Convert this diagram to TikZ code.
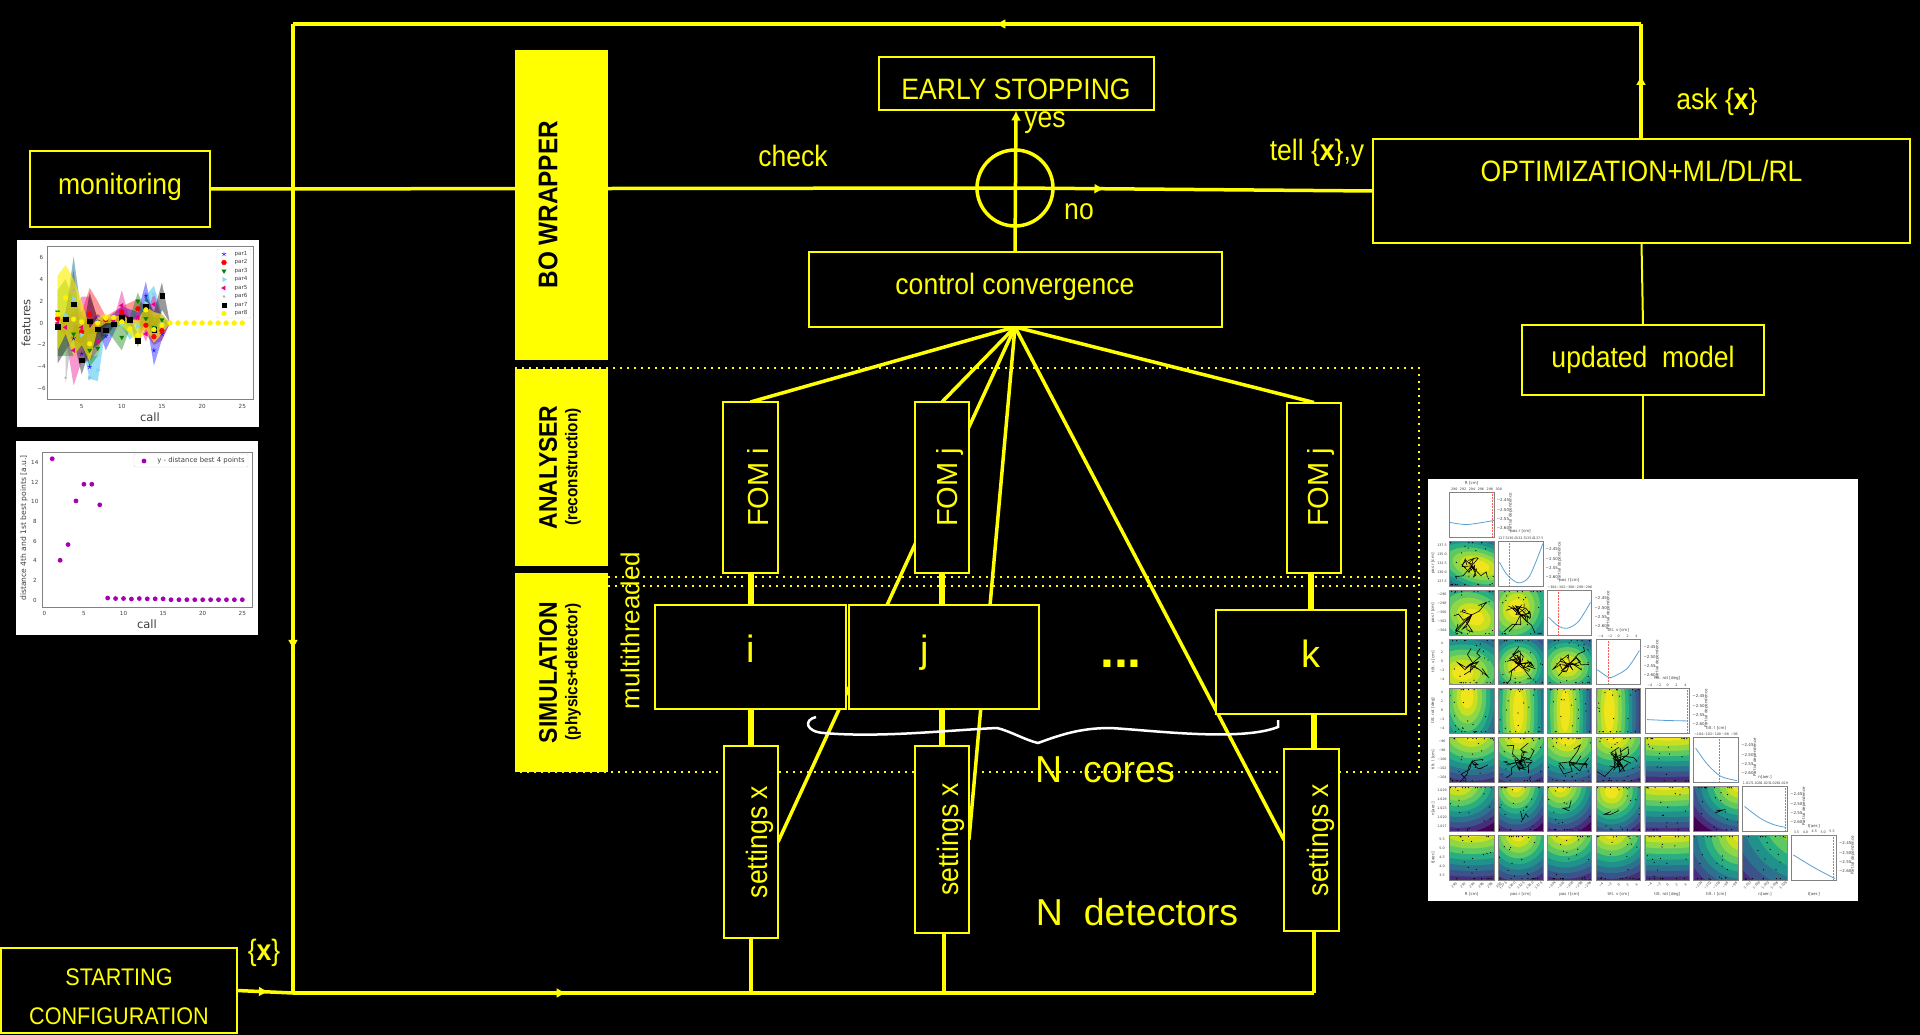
\documentclass[tikz,border=0pt]{standalone}
\usepackage{fontspec}
\usepackage{graphicx}
\setmainfont{Liberation Sans}
\newfontfamily\narrowfont[FakeStretch=0.9]{Liberation Sans}
\newfontfamily\plotfont{DejaVu Sans}
\definecolor{boYellow}{RGB}{255, 255, 0}
\definecolor{dotPurple}{RGB}{165, 0, 180}
\definecolor{axisGray}{RGB}{130, 130, 130}
\definecolor{curveBlue}{RGB}{90, 160, 210}
\definecolor{vA}{HTML}{440154}
\definecolor{vB}{HTML}{472D7B}
\definecolor{vC}{HTML}{3B528B}
\definecolor{vD}{HTML}{2C728E}
\definecolor{vE}{HTML}{21918C}
\definecolor{vF}{HTML}{28AE80}
\definecolor{vG}{HTML}{5EC962}
\definecolor{vH}{HTML}{8FD744}
\definecolor{vI}{HTML}{C8E020}
\definecolor{vJ}{HTML}{F0E51C}
\usetikzlibrary{shapes.geometric, arrows.meta, decorations.markings, plotmarks, backgrounds}

\newcommand{\fsz}[1]{\fontsize{#1}{#1}\selectfont}
\newcommand{\upby}[2]{\raisebox{#1}[0pt][0pt]{#2}}
\newcommand{\parband}[2]{\fill[#1, fill opacity=0.4] plot coordinates {#2} -- cycle;}
\newcommand{\parmark}[5]{\draw[#1] plot[only marks, mark=#2, mark size=#3,
    mark options={rotate=#4, fill=#1, draw=#1}] coordinates {#5};}
% one diagonal panel of the corner plot: column, red line, curve
\newcommand{\diagpanel}[3]{
  \begin{scope}[shift={({1449.3+48.9*#1},{492.3+49*#1})}, x=44.7pt, y=-44.7pt]
    \draw[axisGray, fill=white, line width=0.7pt] (0,0) rectangle (1,1);
    \draw[curveBlue, line width=0.8pt] plot[smooth] coordinates {#3};
    \draw[red!65, densely dotted, line width=0.5pt] (#2,0) -- (#2,1);
    \foreach \yv/\yt in {0.17/−2.45, 0.39/−2.50, 0.60/−2.55, 0.81/−2.60}
      \node[cornertxt] at (1.2,\yv) {\yt};
    \node[cornertxt, rotate=90] at (1.37,0.45) {Partial dependence};
  \end{scope}
}

\begin{document}
\begin{tikzpicture}[x=1pt, y=-1pt,
  box/.style={rectangle, draw=boYellow, fill=black, line width=2pt, inner sep=0pt,
              outer sep=0pt, text=boYellow, align=center, font=\narrowfont\fsz{29.5}},
  wh/.style 2 args={minimum width=#1pt, minimum height=#2pt},
  sidebar/.style={rectangle, fill=boYellow, inner sep=0pt, outer sep=0pt,
                  minimum width=93pt, text=black},
  lab/.style={text=boYellow, inner sep=0pt, font=\narrowfont\fsz{29.5}},
  sublab/.style={text=black, inner sep=0pt, rotate=90, font=\narrowfont\bfseries\fsz{17}},
  conn/.style={draw=boYellow, line width=3.5pt},
  thickconn/.style={draw=boYellow, line width=6pt},
  thinconn/.style={draw=boYellow, line width=2pt},
  dotline/.style={draw=boYellow, line width=2pt, dash pattern=on 2pt off 5pt},
  midarrow/.style={postaction={decorate, decoration={markings,
      mark=at position #1 with {\arrow{Latex[length=10pt, width=10pt]}}}}},
  plotbg/.style={rectangle, fill=white, inner sep=0pt, outer sep=0pt},
  plottxt/.style={inner sep=0pt, text=black!75, font=\plotfont\fsz{5.6}},
  cornertxt/.style={inner sep=0pt, text=black!75, font=\plotfont\fsz{4}},
]
  \useasboundingbox (0,0) rectangle (1920,1035);

  % boxes
  \node[box, wh={180}{76}] (monitor) at (120,189) {\upby{-6pt}{monitoring}};
  \node[box, wh={275}{53}] (early) at (1016,84) {\upby{-16pt}{EARLY STOPPING}};
  \node[box, wh={413}{75}] (control) at (1015,289.5) {\upby{-5.5pt}{control convergence}};
  \node[box, wh={537}{104}] (optim) at (1641.5,191) {\upby{9pt}{OPTIMIZATION+ML/DL/RL}};
  \node[box, wh={242}{70}] (updated) at (1643,360) {\upby{-7pt}{updated\ \ model}};
  \node[box, wh={236}{85}, font=\narrowfont\fsz{24}] (start) at (119,990.5)
    {\upby{-33.5pt}{\begin{tabular}[b]{@{}c@{}}STARTING\\[15pt]CONFIGURATION\end{tabular}}};

  \coordinate (loopTL) at (293,24);
  \coordinate (loopTR) at (1641,24);
  \coordinate (loopBL) at (293,993);
  \coordinate (loopBR) at (1314,993);
  \node[circle, draw=boYellow, line width=3.5pt, inner sep=0pt, minimum size=76pt] (check) at (1015,188) {};

  % detector columns
  \node[box, wh={55}{171}, font=\fsz{29}] (fomi) at (750.5,487.5) {\hspace*{15pt}\rotatebox{90}{FOM i}};
  \node[box, wh={54}{171}, font=\fsz{29}] (fomj) at (942,487.5) {\hspace*{16pt}\rotatebox{90}{FOM j}};
  \node[box, wh={54}{170}, font=\fsz{29}] (fomk) at (1314,487.5) {\hspace*{14pt}\rotatebox{90}{FOM j}};
  \node[box, wh={54}{192}] (setone) at (751,842) {\hspace*{18pt}\rotatebox{90}{settings x}};
  \node[box, wh={54.5}{187}] (settwo) at (941.75,839.5) {\hspace*{18pt}\rotatebox{90}{settings x}};
  \node[box, wh={55}{182}] (setthree) at (1311.5,840) {\hspace*{19pt}\rotatebox{90}{settings x}};
  \node[box, wh={191}{104}, font=\fsz{38}] (corei) at (750.5,657) {\upby{-5pt}{i}};
  \node[box, wh={190}{104}, font=\fsz{38}] (corej) at (944,657) {\upby{-5pt}{j}\hspace*{38pt}};
  \node[box, wh={190.5}{104}, font=\fsz{38}] (corek) at (1310.75,662) {\upby{-5pt}{k}};
  \node[lab, anchor=base, font=\fsz{50}\bfseries] (coredots) at (1121,667) {...};

  % side bars
  \node[sidebar, minimum height=309.5pt, font=\narrowfont\bfseries\fsz{27}] (bowrap) at (561.5,204.75)
    {\rotatebox{90}{BO WRAPPER}\hspace*{27pt}};
  \node[sidebar, minimum height=197pt, font=\narrowfont\bfseries\fsz{25.5}] (analyser) at (561.5,467.5)
    {\rotatebox{90}{ANALYSER}\hspace*{27pt}};
  \node[sidebar, minimum height=199pt, font=\narrowfont\bfseries\fsz{25.5}] (simul) at (561.5,672.5)
    {\rotatebox{90}{SIMULATION}\hspace*{27pt}};
  \node[sublab] (analysersub) at (573,467) {(reconstruction)};
  \node[sublab] (simulsub) at (573,672) {(physics+detector)};

  % connectors under the boxes
  \begin{scope}[on background layer]
    \fill[black] (0,0) rectangle (1920,1035);
    \coordinate (dotA) at (515,368);
    \coordinate (dotB) at (1419,368);
    \coordinate (dotC) at (1419,772);
    \coordinate (dotD) at (515,772);
    \coordinate (dotE) at (608,577);
    \coordinate (dotF) at (1419,577);
    \coordinate (dotG) at (608,586);
    \coordinate (dotH) at (1419,586);
    \draw[dotline] (dotA) -- (dotB) -- (dotC) -- (dotD);
    \draw[dotline] (dotE) -- (dotF);
    \draw[dotline] (dotG) -- (dotH);

    \draw[conn, midarrow=0.557] (optim.north -| loopTR) -- (loopTR);
    \draw[conn, midarrow=0.479] (loopTR) -- (loopTL);
    \draw[conn, midarrow=0.646] (loopTL) -- (loopBL);
    \draw[conn, midarrow=0.268] (loopBL) -- (loopBR);
    \draw[conn, midarrow=0.57] (start.east) -- (loopBL);
    \draw[conn] (monitor.east) -- (check.center);
    \draw[conn, midarrow=0.25] (check.center) -- (optim.west);
    \draw[conn, -{Latex[length=10pt, width=10pt]}] (control.north) -- (early.south);
    \draw[thinconn] (optim.south) -- (updated.north);

    \draw[conn] (control.south) -- (fomi.north);
    \draw[conn] (control.south) -- (fomj.north);
    \draw[conn] (control.south) -- (fomk.north);
    \draw[conn] (control.south) -- (setone.east);
    \draw[conn] (control.south) -- (settwo.east);
    \draw[conn] (control.south) -- (setthree.west);

    \draw[thickconn] (fomi.south) -- (corei.north -| fomi.south);
    \draw[thickconn] (fomj.south) -- (corej.north -| fomj.south);
    \draw[thickconn] ([xshift=-3pt]fomk.south) -- ([xshift=-3pt]corek.north -| fomk.south);
    \draw[thickconn] (corei.south -| setone.north) -- (setone.north);
    \draw[thickconn] (corej.south -| settwo.north) -- (settwo.north);
    \draw[thickconn] ([xshift=2.5pt]corek.south -| setthree.north) -- ([xshift=2.5pt]setthree.north);
    \draw[conn] (setone.south) -- (setone.south |- loopBL);
    \draw[conn] ([xshift=2.25pt]settwo.south) -- ([xshift=2.25pt]settwo.south |- loopBL);
    \draw[conn] ([xshift=2.5pt]setthree.south) -- (loopBR);
  \end{scope}

  % free labels
  \node[lab] (checklab) at (793,156) {check};
  \node[lab] (yeslab) at (1045,123) {yes};
  \node[lab] (nolab) at (1079,212) {no};
  \node[lab] (telllab) at (1317,153) {tell \{\textbf{x}\},y};
  \node[lab] (asklab) at (1717,102) {ask \{\textbf{x}\}};
  \node[lab] (startlab) at (264,953) {\{\textbf{x}\}};
  \node[lab, rotate=90, font=\fsz{26}] (multilab) at (630,630.5) {multithreaded};
  \node[lab, font=\fsz{37.5}] (ncores) at (1105,770) {N\ \ cores};
  \node[lab, font=\fsz{37.5}] (ndetect) at (1137,912) {N\ \ detectors};

  % white brace
  \draw[white, line width=2.5pt] (816,717) .. controls (803,720) and (806,732) .. (824,733)
    .. controls (880,738) and (950,730) .. (997,728)
    .. controls (1010,731) and (1025,740) .. (1038,743)
    .. controls (1060,735) and (1080,728) .. (1110,728)
    .. controls (1150,730) and (1240,742) .. (1278,727) -- (1278,720);

  % monitoring plot of the features
  \node[plotbg, minimum width=242pt, minimum height=187pt] (featplot) at (138,333.5) {};
  \begin{scope}[xshift=41.5pt, yshift=-323pt, x=8.03pt, y=10.95pt]
    \parband{red}{(2,.5) (5,1) (6,3.2) (7,2) (8,.6) (10,1.5) (12,2.2) (14,.5) (15,.8) (16,0) (15,-1.6) (14,-2) (13,-1) (12,.2) (10,.3) (8,-.2) (7,-1) (6,-1) (5,-2)}
    \parband{blue}{(6,0) (7,.8) (8,.3) (10,1.5) (12,1) (13,3.8) (14,.2) (15,.2) (16,0) (15,-1.5) (14,-3.9) (13,.5) (12,.2) (10,.6) (8,-2.5) (7,-.3) (6,-1)}
    \parband{cyan}{(3,1) (4,6.1) (5,.5) (6,-3) (7,-3) (8,-.5) (9,-.2) (10,.1) (11,.2) (12,.2) (13,2.5) (14,3.4) (15,.8) (16,0) (15,-.8) (14,.5) (13,.5) (12,-.8) (11,-1.5) (10,-.3) (9,-.3) (8,-.5) (7,-5.3) (6,-5.1) (5,-2) (4,-1.5) (3,-.5)}
    \parband{magenta}{(2,.3) (3,.5) (4,1) (5,2.4) (6,2.4) (7,.5) (8,.5) (9,.3) (10,3) (11,.3) (12,1) (13,.5) (14,2.8) (15,.4) (16,0) (15,-.5) (14,.5) (13,-1.7) (12,0) (11,-.3) (10,.3) (9,0) (8,-.3) (7,-2.5) (6,-3.5) (5,-3.5) (4,-5.7) (3,-1.2) (2,-.4)}
    \parband{green!50!black}{(2,3) (3,4) (4,2) (5,1) (6,-.5) (7,-.5) (8,.3) (10,.3) (11,.5) (12,2.8) (13,1) (14,.5) (15,.5) (16,0) (15,-.5) (14,-1.2) (13,0) (12,1.2) (11,-.5) (10,-2.5) (8,-.5) (7,-3) (6,-4) (5,-2) (4,-3) (3,-3) (2,-3)}
    \parband{black}{(2,-.3) (3,1) (4,4.8) (5,-1.5) (6,2.8) (7,.3) (8,.2) (9,.3) (10,1) (11,.5) (12,-1) (13,2.5) (14,1) (15,3.7) (16,0) (15,1.2) (14,-1.5) (13,.5) (12,-2.2) (11,.1) (10,0) (9,-.3) (8,-1.3) (7,-2) (6,-2.5) (5,-4.7) (4,-1.5) (3,-2.5) (2,-3.7)}
    \parband{gray}{(3,.5) (4,6) (5,1) (5,-.5) (4,0) (3,-5.5)}
    \parband{yellow}{(2,4.3) (3,5.3) (4,4) (5,2) (6,-.5) (7,.5) (8,.8) (9,.6) (10,.7) (11,.3) (12,.3) (13,1.5) (14,1) (15,.8) (16,0) (15,-1) (14,-1.8) (13,-.5) (12,-2) (11,-1) (10,-.3) (9,0) (8,0) (7,-.5) (6,-3.5) (5,-2) (4,-3) (3,-1) (2,-2.5)}
    \parband{yellow}{(2,4.3) (3,5.3) (4,4) (5,2) (6,-.5) (7,.5) (8,.8) (9,.6) (10,.7) (11,.3) (12,.3) (13,1.5) (14,1) (15,.8) (16,0) (15,-1) (14,-1.8) (13,-.5) (12,-2) (11,-1) (10,-.3) (9,0) (8,0) (7,-.5) (6,-3.5) (5,-2) (4,-3) (3,-1) (2,-2.5)}
    \parmark{blue}{star}{2.4pt}{0}{(4,-1.4) (5,-2.8) (6,-4) (7,.2) (8,-1.2) (10,1.1) (12,.5) (13,2.5) (14,-2.5) (15,-1)}
    \parmark{red}{*}{2.4pt}{0}{(2,.4) (5,-.8) (6,.8) (8,.3) (10,1) (12,1.3) (13,-.2) (14,-1.25) (15,-.7)}
    \parmark{green!50!black}{triangle*}{2.4pt}{180}{(2,1) (4,-1) (6,-2.5) (7,-2.3) (10,-1.3) (12,2) (13,.4) (14,-.4) (15,.3)}
    \parmark{cyan!50}{triangle*}{2.4pt}{-90}{(3,.7) (4,2.2) (5,-1.1) (6,-5) (7,-4.3) (10,-.1) (12,-.3) (13,1.8) (14,2.6) (15,-.1)}
    \parmark{magenta}{triangle*}{2.4pt}{90}{(2,0) (3,-.4) (4,-2.5) (5,-.4) (7,-1.7) (9,.2) (10,1.6) (12,.5) (13,-1) (14,1.7)}
    \parmark{gray!60}{*}{1pt}{0}{(3,-5) (4,3) (6,-5)}
    \parmark{black}{square*}{2.2pt}{0}{(2,-.35) (3,.35) (4,1.7) (5,-3.4) (6,.15) (7,-.55) (8,-.65) (9,-.1) (10,.5) (11,.3) (12,-1.6) (13,1.5) (14,-.6) (15,2.5)}
    \parmark{yellow}{*}{2.4pt}{0}{(2,.8) (3,2.3) (4,.35) (5,.1) (6,-1.9) (7,0) (8,.45) (9,.5) (10,.1) (11,-.55) (12,-1.1) (13,1.2) (14,-.6) (15,-.2) (16,0) (17,0) (18,0) (19,0) (20,0) (21,0) (22,0) (23,0) (24,0) (25,0)}
    \draw[axisGray, line width=0.8pt] (.68,6.97) rectangle (26.33,-6.98);
    \foreach \v in {-6,-4,-2,0,2,4,6}
      \node[plottxt] at (0,\v) {\ifnum\v<0 −\fi\pgfmathparse{int(abs(\v))}\pgfmathresult};
    \foreach \c in {5,10,15,20,25}
      \node[plottxt] at (\c,-7.58) {\c};
  \end{scope}
  \node[plottxt, font=\plotfont\fsz{11.5}] (featcall) at (150,417) {call};
  \node[plottxt, rotate=90, font=\plotfont\fsz{11.5}] (featylab) at (26,323) {features};
  \draw[black!15, fill=white, rounded corners=1pt] (217,249) rectangle (251,318);
  \foreach \nm/\yy/\mk/\ro/\cl/\ms in {par1/254/star/0/blue/2.4pt, par2/262.5/*/0/red/2.4pt,
      par3/271/triangle*/180/green!50!black/2.4pt, par4/279.5/triangle*/-90/cyan!50/2.4pt,
      par5/288/triangle*/90/magenta/2.4pt, par6/296.5/*/0/gray!60/1pt,
      par7/305/square*/0/black/2.2pt, par8/313.5/*/0/yellow/2.4pt} {
    \parmark{\cl}{\mk}{\ms}{\ro}{(224,\yy)}
    \node[plottxt] at (241,\yy) {\nm};
  }

  % plot of the distance of the best points
  \node[plotbg, minimum width=242pt, minimum height=194pt] (distplot) at (137,538) {};
  \begin{scope}[xshift=44.3pt, yshift=-600pt, x=7.92pt, y=9.81pt]
    \draw[axisGray, line width=0.8pt] (-.28,15) rectangle (26.25,-.71);
    \foreach \c/\v in {1/14.4, 2/4.05, 3/5.65, 4/10.1, 5/11.8, 6/11.8, 7/9.7, 8/.2, 9/.15, 10/.15,
        11/.1, 12/.15, 13/.12, 14/.12, 15/.12, 16/.03, 17/.03, 18/.03, 19/.03, 20/.03, 21/.03,
        22/.03, 23/.03, 24/.03, 25/.03}
      \fill[dotPurple] (\c,\v) circle [radius=2.4pt];
    \foreach \v in {0,2,...,14}
      \node[plottxt] at (-1.2,\v) {\v};
    \foreach \c in {0,5,...,25}
      \node[plottxt] at (\c,-1.35) {\c};
  \end{scope}
  \draw[black!15, fill=white, rounded corners=1pt] (134,454) rectangle (248,467);
  \fill[dotPurple] (144,461) circle [radius=2.4pt];
  \node[plottxt, font=\plotfont\fsz{6.9}] (distleg) at (201,461) {y - distance best 4 points};
  \node[plottxt, font=\plotfont\fsz{11.5}] (distcall) at (147,624) {call};
  \node[plottxt, rotate=90, font=\plotfont\fsz{7.6}] (distylab) at (24,528) {distance 4th and 1st best points [a.u.]};

  % corner plot of the optimisation
  \node[plotbg, minimum width=430pt, minimum height=422pt] (cornerplot) at (1643,690) {};
  \begin{scope}[on background layer]
    \draw[thinconn] (updated.south) -- (updated.south |- cornerplot.north);
  \end{scope}
  \pgfmathsetseed{7}
  \foreach \cc/\rr/\cx/\cy/\rx/\ry/\ro/\nb in {
      0/1/.65/.55/1.6/.8/-15/9,
      0/2/.55/.6/1.5/1.1/-25/8, 1/2/.4/.4/1.1/1.3/-20/12,
      0/3/.3/.75/1.5/1.1/0/8, 1/3/.45/.6/.9/.9/0/16, 2/3/.45/.6/1/.9/0/12,
      0/4/.4/.2/.9/1.6/0/0, 1/4/.45/.5/.75/3/0/0, 2/4/.4/.5/.7/3/0/0, 3/4/.3/.5/.75/3/0/0,
      0/5/.5/-.1/1.5/1.2/0/5, 1/5/.45/-.05/1.2/1.2/0/14, 2/5/.45/0/1.3/1.2/0/7,
      3/5/.4/-.05/1.3/1.2/0/14, 4/5/.5/-.1/4/1.1/0/0,
      0/6/.2/-.1/1.3/1.15/0/0, 1/6/.4/-.05/.9/1.15/0/1, 2/6/.3/-.05/1/1.15/0/1,
      3/6/.35/.1/1/1.1/0/1, 4/6/.5/-.1/4/1.15/0/0, 5/6/1.05/-.05/1.3/1.2/0/1,
      0/7/.5/-.15/2.5/1.2/0/0, 1/7/.45/-.05/1.1/1.2/0/0, 2/7/.4/-.1/1.3/1.2/0/0,
      3/7/.35/-.1/1.3/1.2/0/0, 4/7/.5/-.15/4/1.2/0/0, 5/7/1.1/-.05/1.5/1.5/-20/0,
      6/7/1.5/-.5/2.2/2.2/0/0} {
    \begin{scope}[shift={({1449.3+48.9*\cc},{492.3+49*\rr})}, x=44.7pt, y=-44.7pt]
      \begin{scope}
        \clip (0,0) rectangle (1,1);
        \fill[vA] (0,0) rectangle (1,1);
        \foreach \lv/\vc in {0/vB, 1/vC, 2/vD, 3/vE, 4/vF, 5/vG, 6/vH, 7/vI, 8/vJ}
          \fill[\vc, rotate around={\ro:(\cx,\cy)}] (\cx,\cy)
            ellipse [x radius={\rx*(1-\lv/9.5)}, y radius={\ry*(1-\lv/9.5)}];
        \foreach \i in {1,...,12}
          \fill[black] ({rnd},{rnd}) circle [radius=0.014];
        \foreach \i in {1,...,14}
          \fill[black] ({rnd},{.03+.94*floor(rnd+.5)}) circle [radius=0.014];
        \ifnum\nb>0
          \foreach \i in {1,...,\nb}
            \draw[black, line width=0.6pt] (.5,.55) -- ++({rand*.25},{rand*.25})
              -- ++({rand*.2},{rand*.2}) -- ++({rand*.2},{rand*.2});
        \fi
      \end{scope}
      \draw[axisGray, line width=0.7pt] (0,0) rectangle (1,1);
    \end{scope}
  }
  \diagpanel{0}{.96}{(0,.67) (.4,.72) (1,.63)}
  \diagpanel{1}{.24}{(.03,.47) (.2,.75) (.45,.93) (.7,.78) (1,.05)}
  \diagpanel{2}{.25}{(.03,.6) (.25,.8) (.45,.85) (.7,.7) (.97,.27)}
  \diagpanel{3}{.28}{(.03,.68) (.28,.85) (.4,.83) (.7,.65) (.97,.25)}
  \diagpanel{4}{.95}{(.05,.7) (.5,.72) (.95,.73)}
  \diagpanel{5}{.57}{(.04,.24) (.3,.6) (.6,.87) (.97,.97)}
  \diagpanel{6}{.95}{(.04,.45) (.4,.72) (.7,.86) (.97,.92)}
  \diagpanel{7}{.93}{(.04,.44) (.5,.72) (.97,.97)}
  \foreach \cc/\nm/\tks in {0/R [cm]/{290,292,294,296,298,300},
      1/pos r [cm]/{127.5,130.0,132.5,135.0,137.5},
      2/pos l [cm]/{−304,−302,−300,−298,−296},
      3/tilt. v [cm]/{−4,−2,0,2,4},
      4/tilt. rot [deg]/{−4,−2,0,2,4},
      5/tilt. l [cm]/{−104,−102,−100,−98,−96},
      6/n[aer.]/{1.017,1.020,1.023,1.026,1.029},
      7/t[aer.]/{3.5,4.0,4.5,5.0,5.5}} {
    \node[cornertxt] at ({1471.6+48.9*\cc},{894}) {\nm};
    \node[cornertxt] at ({1471.6+48.9*\cc},{492.3+49*\cc-9.5}) {\nm};
    \foreach \t [count=\n] in \tks {
      \node[cornertxt, font=\plotfont\fsz{3.3}] at ({1449.3+48.9*\cc+8.9*\n-4},{492.3+49*\cc-3.5}) {\t};
      \ifnum\cc<7
        \node[cornertxt, rotate=45, font=\plotfont\fsz{3.3}] at ({1449.3+48.9*\cc+8.9*\n-4},{885}) {\t};
      \fi
      \ifnum\cc>0
        \node[cornertxt, font=\plotfont\fsz{3.3}] at (1442,{492.3+49*\cc+44.7-8.9*\n+4}) {\t};
      \fi
    }
    \ifnum\cc>0
      \node[cornertxt, rotate=90] at (1433,{514.6+49*\cc}) {\nm};
    \fi
  }
\end{tikzpicture}
\end{document}
